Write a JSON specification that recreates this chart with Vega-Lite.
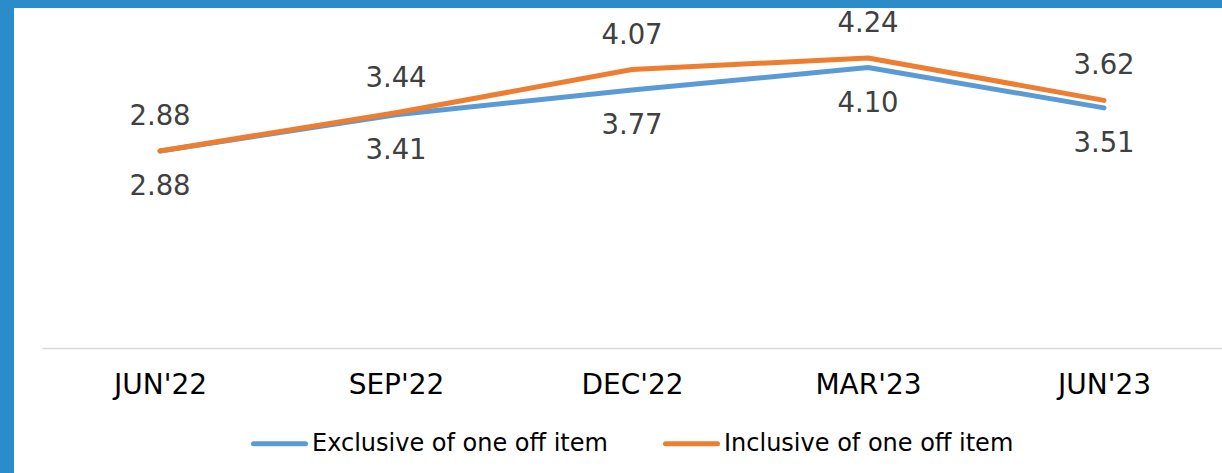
{
  "$schema": "https://vega.github.io/schema/vega-lite/v6.json",
  "background": "white",
  "padding": 0,
  "autosize": {"type": "pad"},
  "config": {"view": {"stroke": null}},
  "spacing": 0,
  "vconcat": [
    {
      "width": 1222,
      "height": 8,
      "view": {"fill": "#2a8cc8", "stroke": null},
      "data": {"values": []},
      "mark": "point"
    },
    {
      "spacing": 28,
      "hconcat": [
        {
          "width": 14,
          "height": 465,
          "view": {"fill": "#2a8cc8", "stroke": null},
          "data": {"values": []},
          "mark": "point"
        },
        {
          "width": 1180,
          "height": 340,
          "data": {
            "values": [
              {"quarter": "JUN'22", "series": "Exclusive of one off item", "value": 2.88},
              {"quarter": "SEP'22", "series": "Exclusive of one off item", "value": 3.41},
              {"quarter": "DEC'22", "series": "Exclusive of one off item", "value": 3.77},
              {"quarter": "MAR'23", "series": "Exclusive of one off item", "value": 4.10},
              {"quarter": "JUN'23", "series": "Exclusive of one off item", "value": 3.51},
              {"quarter": "JUN'22", "series": "Inclusive of one off item", "value": 2.88},
              {"quarter": "SEP'22", "series": "Inclusive of one off item", "value": 3.44},
              {"quarter": "DEC'22", "series": "Inclusive of one off item", "value": 4.07},
              {"quarter": "MAR'23", "series": "Inclusive of one off item", "value": 4.24},
              {"quarter": "JUN'23", "series": "Inclusive of one off item", "value": 3.62}
            ]
          },
          "encoding": {
            "x": {
              "field": "quarter",
              "type": "ordinal",
              "sort": null,
              "scale": {"padding": 0.5},
              "axis": {
                "title": null,
                "labelAngle": 0,
                "labelFont": "DejaVu Sans",
                "labelFontSize": 28,
                "labelColor": "#000000",
                "labelPadding": 23,
                "ticks": false,
                "tickSize": 0,
                "domainColor": "#d9d9d9",
                "domainWidth": 1.5,
                "grid": false
              }
            },
            "y": {
              "field": "value",
              "type": "quantitative",
              "scale": {"domain": [0, 4.97], "nice": false, "zero": true},
              "axis": null
            }
          },
          "layer": [
            {
              "mark": {"type": "line", "strokeWidth": 5, "strokeCap": "round", "strokeJoin": "round"},
              "encoding": {
                "color": {
                  "field": "series",
                  "type": "nominal",
                  "scale": {
                    "domain": ["Exclusive of one off item", "Inclusive of one off item"],
                    "range": ["#5b9bd5", "#ed7d31"]
                  },
                  "legend": {
                    "title": null,
                    "orient": "none",
                    "direction": "horizontal",
                    "legendX": 251,
                    "legendY": 415,
                    "padding": 0,
                    "labelFont": "DejaVu Sans",
                    "labelFontSize": 24,
                    "labelColor": "#000000",
                    "labelLimit": 600,
                    "labelOffset": 4,
                    "symbolType": "stroke",
                    "symbolSize": 2704,
                    "symbolStrokeWidth": 5,
                    "columnPadding": 47,
                    "rowPadding": 0,
                    "symbolOffset": 0,
                    "encode": {"symbols": {"update": {"strokeCap": {"value": "round"}}}}
                  }
                }
              }
            },
            {
              "transform": [{"filter": "datum.series === 'Inclusive of one off item'"}],
              "mark": {"type": "text", "font": "DejaVu Sans", "fontSize": 27.5, "color": "#404040", "baseline": "middle", "dy": -34},
              "encoding": {"text": {"field": "value", "type": "quantitative", "format": ".2f"}}
            },
            {
              "transform": [{"filter": "datum.series === 'Exclusive of one off item'"}],
              "mark": {"type": "text", "font": "DejaVu Sans", "fontSize": 27.5, "color": "#404040", "baseline": "middle", "dy": 36},
              "encoding": {"text": {"field": "value", "type": "quantitative", "format": ".2f"}}
            }
          ]
        }
      ]
    }
  ]
}
